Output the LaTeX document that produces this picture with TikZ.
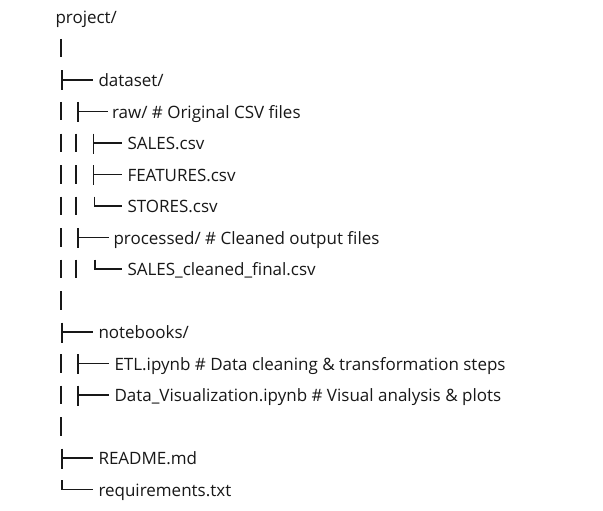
\documentclass[tikz,border=0pt]{standalone}
\usepackage{fontspec}
\setmainfont{Open Sans}
\definecolor{ink}{RGB}{24,24,24}
\tikzset{
  treeline/.style={draw=ink, line width=1.15pt, line cap=butt},
  lbl/.style={anchor=base west, inner sep=0pt, outer sep=0pt, text=ink,
    font=\fontsize{17}{20}\selectfont}
}
% row baseline: 23.5 + 31.5*row ; args: x, row, horizontal length
\newcommand\dirTee[3]{%
  \draw[treeline] (#1,{23.5+31.5*#2-16}) -- (#1,{23.5+31.5*#2+4});
  \draw[treeline] (#1,{23.5+31.5*#2-6.5}) -- ++(#3,0);}
\newcommand\dirElbow[3]{%
  \draw[treeline] (#1,{23.5+31.5*#2-16}) -- (#1,{23.5+31.5*#2-6.5}) -- ++(#3,0);}
\newcommand\dirPipe[2]{%
  \draw[treeline] (#1,{23.5+31.5*#2-16}) -- (#1,{23.5+31.5*#2+2.5});}
\begin{document}
\begin{tikzpicture}[x=1pt,y=-1pt]
\useasboundingbox[fill=white] (0,0) rectangle (603,511);
% labels
\node[lbl] (project)   at (55.5,{23.5+31.5*0})  {project/};
\node[lbl] (dataset)   at (98.5,{23.5+31.5*2})  {dataset/};
\node[lbl] (raw)       at (112,{23.5+31.5*3})   {raw/ \# Original CSV files};
\node[lbl] (sales)     at (127.5,{23.5+31.5*4}) {SALES.csv};
\node[lbl] (features)  at (127.5,{23.5+31.5*5}) {FEATURES.csv};
\node[lbl] (stores)    at (127.5,{23.5+31.5*6}) {STORES.csv};
\node[lbl] (processed) at (113.5,{23.5+31.5*7}) {processed/ \# Cleaned output files};
\node[lbl] (cleaned)   at (127.5,{23.5+31.5*8}) {SALES\_cleaned\_final.csv};
\node[lbl] (notebooks) at (98.5,{23.5+31.5*10}) {notebooks/};
\node[lbl] (etl)       at (114.5,{23.5+31.5*11}) {ETL.ipynb \# Data cleaning \& transformation steps};
\node[lbl] (dataviz)   at (114.5,{23.5+31.5*12}) {Data\_Visualization.ipynb \# Visual analysis \& plots};
\node[lbl] (readme)    at (98.5,{23.5+31.5*14}) {README.md};
\node[lbl] (reqs)      at (98.5,{23.5+31.5*15}) {requirements.txt};
% tree glyphs
\dirPipe{61}{1}
\dirTee{62}{2}{31}
\dirPipe{61}{3} \dirTee{78}{3}{29.5}
\dirPipe{61}{4} \dirPipe{76}{4} \dirTee{93.5}{4}{28}
\dirPipe{61}{5} \dirPipe{76}{5} \dirTee{93.5}{5}{28}
\dirPipe{61}{6} \dirPipe{76}{6} \dirElbow{94.5}{6}{27}
\dirPipe{61}{7} \dirTee{78}{7}{31}
\dirPipe{61}{8} \dirPipe{76}{8} \dirElbow{95}{8}{27}
\dirPipe{61}{9}
\dirTee{62}{10}{31}
\dirPipe{61}{11} \dirTee{78}{11}{31}
\dirPipe{61}{12} \dirTee{78}{12}{31}
\dirPipe{61}{13}
\dirTee{62}{14}{31}
\dirElbow{62}{15}{31}
\end{tikzpicture}
\end{document}
